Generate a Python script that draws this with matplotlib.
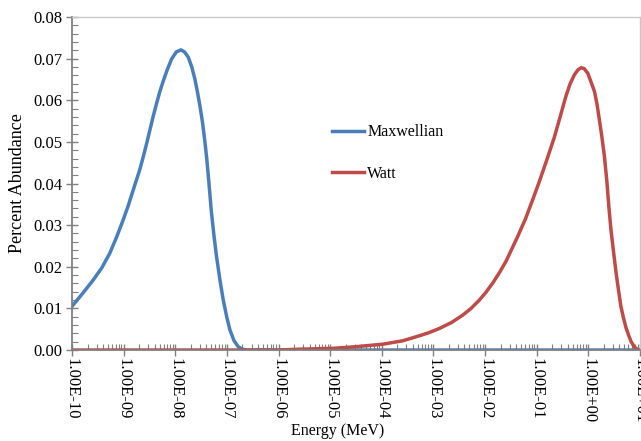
import numpy as np
import matplotlib
matplotlib.use("Agg")
import matplotlib.pyplot as plt
from matplotlib.ticker import LogLocator, MultipleLocator, FuncFormatter, NullFormatter

# log10 of energy (MeV) and percent abundance for each spectrum
maxwell_logE = [-10.0, -9.80, -9.59, -9.42, -9.27, -9.14, -9.01, -8.91, -8.81, -8.69,
                -8.62, -8.55, -8.49, -8.43, -8.36, -8.30, -8.23, -8.15, -8.07, -7.98,
                -7.89, -7.82, -7.75, -7.68, -7.62, -7.57, -7.52, -7.47, -7.43, -7.39,
                -7.35, -7.30, -7.25, -7.20, -7.13, -7.07, -7.00, -6.94, -6.86, -6.78,
                -6.70, -6.60, -5.0, -3.0, -1.0, 1.0]
maxwell_val = [0.0105, 0.0135, 0.0168, 0.0198, 0.0232, 0.0270, 0.0312, 0.0347, 0.0386, 0.0432,
               0.0464, 0.0498, 0.0529, 0.0560, 0.0593, 0.0620, 0.0647, 0.0675, 0.0699, 0.0716,
               0.0721, 0.0716, 0.0704, 0.0680, 0.0651, 0.0620, 0.0585, 0.0545, 0.0505, 0.0460,
               0.0405, 0.0332, 0.0275, 0.0224, 0.0165, 0.0120, 0.0078, 0.0048, 0.0022, 0.0008,
               0.0002, 0.0, 0.0, 0.0, 0.0, 0.0]

watt_logE = [-10.0, -8.0, -7.0, -6.0, -5.59, -4.95, -4.5, -3.98, -3.60, -3.33,
             -3.10, -2.88, -2.65, -2.43, -2.27, -2.11, -1.98, -1.85, -1.72, -1.59,
             -1.48, -1.37, -1.22, -1.08, -0.95, -0.80, -0.66, -0.55, -0.43, -0.35,
             -0.27, -0.20, -0.14, -0.08, -0.01, 0.05, 0.12, 0.17, 0.21, 0.26,
             0.31, 0.36, 0.40, 0.44, 0.49, 0.54, 0.59, 0.63, 0.68, 0.73,
             0.78, 0.83, 0.88, 0.92, 0.96, 1.0]
watt_val = [0.0, 0.0, 0.0, 0.0, 0.0002, 0.0004, 0.0008, 0.0014, 0.0022, 0.0032,
            0.0041, 0.0052, 0.0066, 0.0084, 0.0100, 0.0120, 0.0139, 0.0161, 0.0186, 0.0214,
            0.0243, 0.0272, 0.0314, 0.0360, 0.0404, 0.0458, 0.0510, 0.0558, 0.0611, 0.0640,
            0.0661, 0.0673, 0.0678, 0.0676, 0.0665, 0.0645, 0.0621, 0.0590, 0.0557, 0.0515,
            0.0468, 0.0405, 0.0342, 0.0288, 0.0235, 0.0184, 0.0140, 0.0106, 0.0078, 0.0054,
            0.0036, 0.0020, 0.0010, 0.0004, 0.0001, 0.0]

BLUE = "#4a7ebb"
RED = "#be4b48"

plt.rcParams['font.family'] = ['Liberation Serif', 'DejaVu Serif']

fig = plt.figure(figsize=(6.41, 4.41), dpi=100)
ax = fig.add_axes([0.1123, 0.2063, 0.886, 0.7552])

ax.plot(np.power(10.0, maxwell_logE), maxwell_val, color=BLUE, lw=2.5,
        label="Maxwellian", solid_joinstyle='round')
ax.plot(np.power(10.0, watt_logE), watt_val, color=RED, lw=2.5,
        label="Watt", solid_joinstyle='round')

ax.set_xscale('log')
ax.set_xlim(1e-10, 1e1)
ax.set_ylim(0, 0.08)

ax.xaxis.set_major_locator(LogLocator(base=10, numticks=20))
ax.xaxis.set_minor_locator(LogLocator(base=10, subs=np.arange(2, 10), numticks=20))
ax.xaxis.set_major_formatter(FuncFormatter(lambda v, p: "%.2E" % v))
ax.xaxis.set_minor_formatter(NullFormatter())
ax.yaxis.set_major_locator(MultipleLocator(0.01))
ax.yaxis.set_minor_locator(MultipleLocator(0.002))
ax.yaxis.set_major_formatter(FuncFormatter(lambda v, p: "%.2f" % v))

ax.tick_params(axis='x', which='major', direction='inout', length=8, width=1,
               color='#808080', labelsize=12, labelrotation=-90, pad=2)
ax.tick_params(axis='x', which='minor', direction='in', length=4, width=0.8, color='#808080')
ax.tick_params(axis='y', which='major', direction='inout', length=8, width=1,
               color='#808080', labelsize=12, pad=3)
ax.tick_params(axis='y', which='minor', direction='in', length=4, width=0.8, color='#808080')

for side in ['left', 'bottom']:
    ax.spines[side].set_color('#808080')
    ax.spines[side].set_linewidth(1.3)
for side in ['top', 'right']:
    ax.spines[side].set_color('#c8c8c8')
    ax.spines[side].set_linewidth(1.0)

ax.set_xlabel("Energy (MeV)", fontsize=11.5, labelpad=1)
ax.xaxis.set_label_coords(0.467, -0.22)
ax.set_ylabel("Percent Abundance", fontsize=13, labelpad=5)

ax.legend(loc='upper left', bbox_to_anchor=(0.447, 0.697), frameon=False, fontsize=11.5,
          handlelength=2.0, handletextpad=0.2, labelspacing=1.6, borderaxespad=0)

fig.savefig("out.png", dpi=100)
